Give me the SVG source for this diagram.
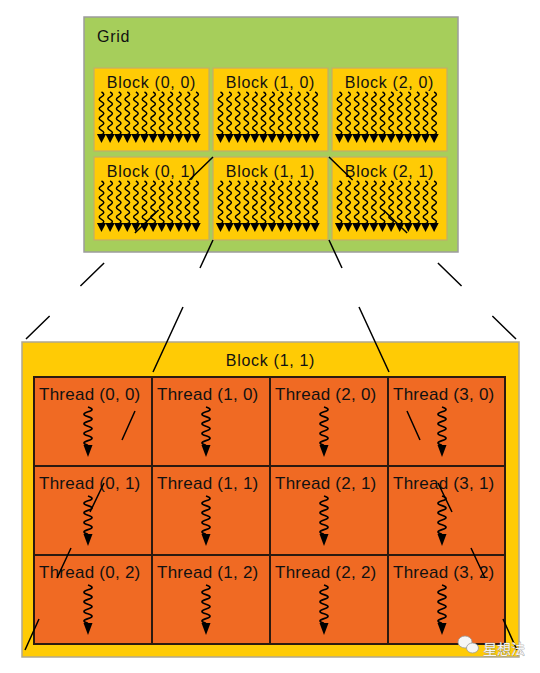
<svg xmlns="http://www.w3.org/2000/svg" xmlns:xlink="http://www.w3.org/1999/xlink" width="540" height="673" viewBox="0 0 540 673">
<style>
.grid{fill:#A6CE5B;stroke:#9c9c9c;stroke-width:1.5}
.blk{fill:#FFCB05;stroke:#c2ae6a;stroke-width:1.2}
.big{fill:#FFCB05;stroke:#b0a890;stroke-width:1.5}
.cell{fill:#F06A23;stroke:#2b1a10;stroke-width:2}
.lbl{font-family:"Liberation Sans",Arial,sans-serif;font-size:16px;letter-spacing:0.7px;fill:#111}
.tl{font-family:"Liberation Sans",Arial,sans-serif;font-size:17px;letter-spacing:0.25px;fill:#111}
.sq{fill:none;stroke:#000;stroke-width:1.7;stroke-linejoin:round}
.gs{fill:none;stroke:#000;stroke-width:1.5;stroke-linejoin:round}
.ah{fill:#000}
.conn{fill:none;stroke:#000;stroke-width:1.5}
.wm{font-family:"Noto Sans CJK SC",sans-serif;font-size:14px;fill:#f6f6f6;stroke:#8a8a8a;stroke-width:0.6;paint-order:stroke}
</style>
<defs>
<g id="gsq">
<path class="gs" d="M0,0 q4.6,2.4 0,4.8 t0,4.8 t0,4.8 t0,4.8 t0,4.8 t0,4.8 t0,4.8 t0,4.8 t0,4.4"/>
<polygon class="ah" points="-4.6,42 4.6,42 0,51"/>
</g>
<g id="bsq">
<use xlink:href="#gsq" x="7.5"/><use xlink:href="#gsq" x="16.1"/><use xlink:href="#gsq" x="24.7"/><use xlink:href="#gsq" x="33.3"/>
<use xlink:href="#gsq" x="41.9"/><use xlink:href="#gsq" x="50.5"/><use xlink:href="#gsq" x="59.1"/><use xlink:href="#gsq" x="67.7"/>
<use xlink:href="#gsq" x="76.3"/><use xlink:href="#gsq" x="84.9"/><use xlink:href="#gsq" x="93.5"/><use xlink:href="#gsq" x="102.1"/>
</g>
<g id="tsq">
<path class="sq" d="M0,0 q8,2.4 0,4.8 t0,4.8 t0,4.8 t0,4.8 t0,4.8 t0,4.8 t0,4.8 t0,4.6"/>
<polygon class="ah" points="-4.5,38 4.5,38 0,50"/>
</g>
</defs>

<g id="grid">
<rect class="grid" x="84" y="17" width="374" height="235"/>
<text class="lbl" x="97" y="42">Grid</text>
</g>

<g id="block-0-0"><rect class="blk" x="94" y="68" width="115" height="83"/><text class="lbl" x="151.5" y="88" text-anchor="middle">Block (0, 0)</text><use xlink:href="#bsq" x="94" y="92"/></g>
<g id="block-1-0"><rect class="blk" x="213" y="68" width="115" height="83"/><text class="lbl" x="270.5" y="88" text-anchor="middle">Block (1, 0)</text><use xlink:href="#bsq" x="213" y="92"/></g>
<g id="block-2-0"><rect class="blk" x="332" y="68" width="115" height="83"/><text class="lbl" x="389.5" y="88" text-anchor="middle">Block (2, 0)</text><use xlink:href="#bsq" x="332" y="92"/></g>
<g id="block-0-1"><rect class="blk" x="94" y="157" width="115" height="83"/><text class="lbl" x="151.5" y="177" text-anchor="middle">Block (0, 1)</text><use xlink:href="#bsq" x="94" y="181"/></g>
<g id="block-1-1"><rect class="blk" x="213" y="157" width="115" height="83"/><text class="lbl" x="270.5" y="177" text-anchor="middle">Block (1, 1)</text><use xlink:href="#bsq" x="213" y="181"/></g>
<g id="block-2-1"><rect class="blk" x="332" y="157" width="115" height="83"/><text class="lbl" x="389.5" y="177" text-anchor="middle">Block (2, 1)</text><use xlink:href="#bsq" x="332" y="181"/></g>

<g id="block-detail">
<rect class="big" x="22" y="342" width="497" height="315"/>
<text class="lbl" x="270.5" y="366" text-anchor="middle">Block (1, 1)</text>
</g>

<g id="thread-0-0"><rect class="cell" x="34" y="377" width="118" height="89"/><text class="tl" x="39" y="400">Thread (0, 0)</text><use xlink:href="#tsq" x="88" y="407"/></g>
<g id="thread-1-0"><rect class="cell" x="152" y="377" width="118" height="89"/><text class="tl" x="157" y="400">Thread (1, 0)</text><use xlink:href="#tsq" x="206" y="407"/></g>
<g id="thread-2-0"><rect class="cell" x="270" y="377" width="118" height="89"/><text class="tl" x="275" y="400">Thread (2, 0)</text><use xlink:href="#tsq" x="324" y="407"/></g>
<g id="thread-3-0"><rect class="cell" x="388" y="377" width="117" height="89"/><text class="tl" x="393" y="400">Thread (3, 0)</text><use xlink:href="#tsq" x="442" y="407"/></g>
<g id="thread-0-1"><rect class="cell" x="34" y="466" width="118" height="89"/><text class="tl" x="39" y="489">Thread (0, 1)</text><use xlink:href="#tsq" x="88" y="496"/></g>
<g id="thread-1-1"><rect class="cell" x="152" y="466" width="118" height="89"/><text class="tl" x="157" y="489">Thread (1, 1)</text><use xlink:href="#tsq" x="206" y="496"/></g>
<g id="thread-2-1"><rect class="cell" x="270" y="466" width="118" height="89"/><text class="tl" x="275" y="489">Thread (2, 1)</text><use xlink:href="#tsq" x="324" y="496"/></g>
<g id="thread-3-1"><rect class="cell" x="388" y="466" width="117" height="89"/><text class="tl" x="393" y="489">Thread (3, 1)</text><use xlink:href="#tsq" x="442" y="496"/></g>
<g id="thread-0-2"><rect class="cell" x="34" y="555" width="118" height="89"/><text class="tl" x="39" y="578">Thread (0, 2)</text><use xlink:href="#tsq" x="88" y="585"/></g>
<g id="thread-1-2"><rect class="cell" x="152" y="555" width="118" height="89"/><text class="tl" x="157" y="578">Thread (1, 2)</text><use xlink:href="#tsq" x="206" y="585"/></g>
<g id="thread-2-2"><rect class="cell" x="270" y="555" width="118" height="89"/><text class="tl" x="275" y="578">Thread (2, 2)</text><use xlink:href="#tsq" x="324" y="585"/></g>
<g id="thread-3-2"><rect class="cell" x="388" y="555" width="117" height="89"/><text class="tl" x="393" y="578">Thread (3, 2)</text><use xlink:href="#tsq" x="442" y="585"/></g>

<g id="connectors">
<line class="conn" x1="213" y1="157" x2="24" y2="341" stroke-dasharray="33 43"/>
<line class="conn" x1="329" y1="157" x2="518" y2="341" stroke-dasharray="33 43"/>
<path class="conn" d="M213,240 L200,268 M183,307 L153,372 M135,411 L122,440 M104,483 L90,512 M71,548 L57,578 M39,619 L25,650"/>
<path class="conn" d="M329,240 L342,268 M359,307 L389,372 M407,411 L420,440 M438,483 L452,512 M471,548 L485,578 M503,619 L517,650"/>
</g>

<g id="watermark">
<ellipse cx="465" cy="642" rx="7" ry="6" fill="#f6f6f6" stroke="#9a9a9a" stroke-width="0.8"/>
<ellipse cx="472.5" cy="648" rx="6" ry="5" fill="#f6f6f6" stroke="#9a9a9a" stroke-width="0.8"/>
<text class="wm" x="483" y="654">星想法</text>
</g>
</svg>
